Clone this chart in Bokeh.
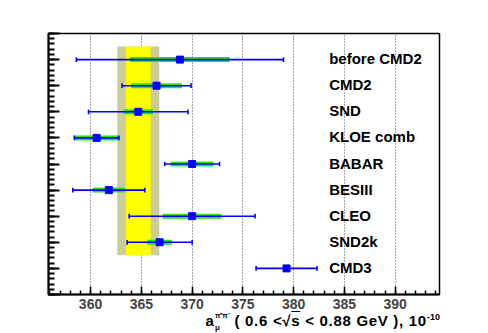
from bokeh.plotting import figure
from bokeh.models import Range1d, FixedTicker, ColumnDataSource, Div
from bokeh.layouts import column
from bokeh.core.properties import value
from bokeh.embed import file_html
from bokeh.resources import INLINE

# ---- data ----
experiments = ["before CMD2", "CMD2", "SND", "KLOE comb", "BABAR", "BESIII", "CLEO", "SND2k", "CMD3"]
positions = [9, 8, 7, 6, 5, 4, 3, 2, 1]
central = [368.8, 366.5, 364.7, 360.6, 370.0, 361.8, 370.0, 366.8, 379.3]
stat_err = [4.9, 2.5, 1.45, 2.15, 2.1, 1.6, 2.9, 1.2, 0.0]
total_err = [10.2, 3.4, 4.9, 2.2, 2.7, 3.55, 6.2, 3.2, 3.0]
label_x = 383.5
band_center = 364.7
band_inner = 1.23
band_outer = 2.07
band_y = [1.5, 9.5]
x_major = [360, 365, 370, 375, 380, 385, 390]
x_minor = list(range(356, 395))
y_major = list(range(0, 11))
y_minor = [i * 0.2 for i in range(0, 51)]
x_title_main = '( 0.6 &lt;√<span style="text-decoration:overline">s</span> &lt; 0.88 GeV ), 10'
x_title_exp = "-10"

FONT = "Liberation Sans"
W, H = 480, 315

p = figure(width=W, height=H, output_backend="svg", toolbar_location=None,
           x_range=Range1d(355.86, 394.36), y_range=Range1d(0, 10),
           min_border_left=48, min_border_right=41, min_border_top=33, min_border_bottom=21)
p.background_fill_color = "white"
p.border_fill_color = "white"
p.outline_line_color = "black"
p.outline_line_width = 1.5

# bands
p.quad(left=[band_center - band_outer], right=[band_center + band_outer],
       bottom=[band_y[0]], top=[band_y[1]], fill_color="#cccc99", line_color=None)
p.quad(left=[band_center - band_inner], right=[band_center + band_inner],
       bottom=[band_y[0]], top=[band_y[1]], fill_color="#ffff00", line_color=None)

src = ColumnDataSource(dict(
    y=positions, x=central,
    s0=[c - s for c, s in zip(central, stat_err)], s1=[c + s for c, s in zip(central, stat_err)],
    t0=[c - t for c, t in zip(central, total_err)], t1=[c + t for c, t in zip(central, total_err)],
    cy0=[y - 0.09 for y in positions], cy1=[y + 0.09 for y in positions],
    lx=[label_x] * len(positions),
    lab=experiments,
))

p.segment(x0="s0", x1="s1", y0="y", y1="y", source=src, line_color="#22e622", line_width=5)
p.segment(x0="t0", x1="t1", y0="y", y1="y", source=src, line_color="#0000ff", line_width=1.6)
p.segment(x0="t0", x1="t0", y0="cy0", y1="cy1", source=src, line_color="#0000ff", line_width=1.6)
p.segment(x0="t1", x1="t1", y0="cy0", y1="cy1", source=src, line_color="#0000ff", line_width=1.6)
p.scatter(x="x", y="y", source=src, marker="square", size=7, fill_color="#0000ff", line_color="#0000ff")

p.text(x="lx", y="y", text="lab", source=src,
       text_font=value(FONT), text_font_style="bold", text_font_size="15px",
       text_baseline="middle", text_align="left", y_offset=-1, text_color="black")

# axes
p.xaxis.ticker = FixedTicker(ticks=x_major, minor_ticks=x_minor)
p.xaxis.major_tick_in = 8
p.xaxis.major_tick_out = 0
p.xaxis.minor_tick_in = 4
p.xaxis.minor_tick_out = 0
p.xaxis.axis_line_width = 2
p.xaxis.major_tick_line_width = 1.5
p.xaxis.minor_tick_line_width = 1.5
p.xaxis.major_label_text_font = FONT
p.xaxis.major_label_text_font_style = "bold"
p.xaxis.major_label_text_font_size = "14px"
p.xaxis.major_label_standoff = 4

p.yaxis.ticker = FixedTicker(ticks=y_major, minor_ticks=y_minor)
p.yaxis.major_tick_in = 11
p.yaxis.major_tick_out = 0
p.yaxis.minor_tick_in = 6
p.yaxis.minor_tick_out = 0
p.yaxis.axis_line_width = 2
p.yaxis.major_tick_line_width = 2
p.yaxis.minor_tick_line_width = 2
p.yaxis.major_label_text_font_size = "0px"
p.yaxis.major_label_text_color = None

p.xgrid.ticker = FixedTicker(ticks=x_major)
p.xgrid.grid_line_color = "black"
p.xgrid.grid_line_dash = "1 2"
p.xgrid.grid_line_alpha = 0.7
p.xgrid.level = "underlay"
p.ygrid.grid_line_color = None

# x-axis title (HTML with sub/superscripts), placed right under the figure
base = ("position:absolute;white-space:nowrap;font-family:'Liberation Sans';"
        "font-weight:bold;color:black;line-height:1;")
html = (
    '<div style="position:relative;width:480px;height:18px;overflow:visible;">'
    f'<span style="{base}left:205.5px;top:-2px;font-size:15px;">a</span>'
    f'<span style="{base}left:215px;top:-3.5px;font-size:7px;">π⁺π⁻</span>'
    f'<span style="{base}left:215px;top:8.7px;font-size:8px;">μ</span>'
    f'<span style="{base}left:234.5px;top:-2px;font-size:15px;letter-spacing:0.7px;">'
    f'{x_title_main}<span style="position:relative;top:-5.7px;font-size:9px;letter-spacing:0;">{x_title_exp}</span></span>'
    '</div>'
)
div = Div(text=html, width=W, height=18, margin=(0, 0, 0, 0),
          styles={"overflow": "visible"})

layout = column(p, div, spacing=0)
open("out.html", "w").write(file_html(layout, INLINE))
